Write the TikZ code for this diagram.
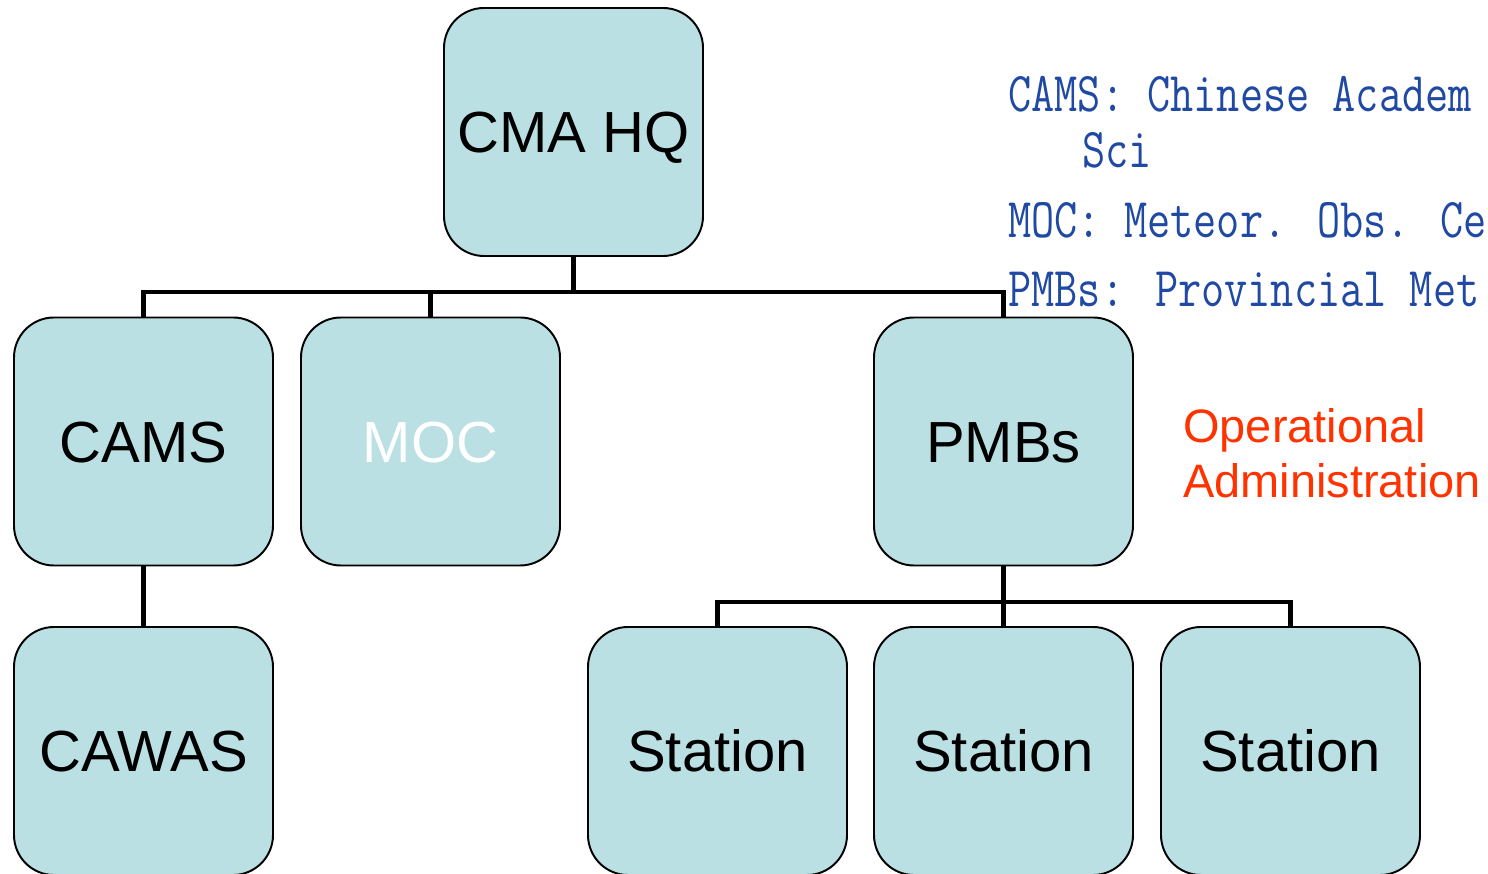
\documentclass[tikz,border=0pt]{standalone}
\usepackage{fontspec}
\setmainfont{Liberation Sans}
\usepackage{graphicx}
\definecolor{boxfill}{RGB}{186,224,227}
\definecolor{notesblue}{RGB}{31,73,163}
\definecolor{opsred}{RGB}{255,51,0}
\newcommand{\notefont}{\ttfamily\fontsize{25.6}{30}\selectfont}
\begin{document}
\begin{tikzpicture}[
    unit/.style={draw, line width=1.1pt, fill=boxfill, rounded corners=0.8cm,
        minimum width=5.18cm, minimum height=4.96cm, inner sep=0pt,
        font=\fontsize{33}{40}\selectfont, text height=23.6pt, text depth=0pt},
    link/.style={line width=2.8pt},
    note/.style={anchor=base west, inner sep=0pt, text=notesblue}]
    \useasboundingbox (0,0) rectangle (29.76,17.46);

    \node[unit] (hq) at (11.47,14.82) {CMA HQ};
    \node[unit] (cams) at (2.87,8.63) {CAMS};
    \node[unit, text=white] (moc) at (8.61,8.63) {MOC};
    \node[unit] (pmbs) at (20.07,8.63) {PMBs};
    \node[unit] (cawas) at (2.87,2.44) {CAWAS};
    \node[unit] (st1) at (14.35,2.44) {Station};
    \node[unit] (st2) at (20.07,2.44) {Station};
    \node[unit] (st3) at (25.81,2.44) {Station};

    \coordinate (hqbar) at (11.47,11.62);
    \coordinate (pmbsbar) at (20.07,5.42);

    \draw[link] (hq.south) -- (hqbar);
    \draw[link] (cams.north) |- (hqbar) -| (pmbs.north);
    \draw[link] (moc.north) -- (moc.north |- hqbar);
    \draw[link] (cams.south) -- (cawas.north);
    \draw[link] (pmbs.south) -- (pmbsbar);
    \draw[link] (st1.north) |- (pmbsbar) -| (st3.north);
    \draw[link] (st2.north) -- (pmbsbar);

    % abbreviations, cut off at the right edge
    \node[note] (n1) at (20.16,15.22) {\notefont\scalebox{1}[1.25]{CAMS: Chinese Academ}};
    \node[note] (n2) at (21.64,14.10) {\notefont\scalebox{1}[1.25]{Sci}};
    \node[note] (n3) at (20.16,12.70) {\notefont\scalebox{1}[1.25]{MOC: Meteor. Obs. Ce}};
    \node[note] (n4) at (20.16,11.32) {\notefont\scalebox{1}[1.25]{PMBs: Provincial Met}};

    \node[anchor=base west, inner sep=0pt, text=opsred, font=\fontsize{26.7}{31}\selectfont] (ops) at (23.66,8.60) {Operational};
    \node[anchor=base west, inner sep=0pt, text=opsred, font=\fontsize{26.7}{31}\selectfont] (adm) at (23.66,7.50) {Administration};
\end{tikzpicture}
\end{document}
